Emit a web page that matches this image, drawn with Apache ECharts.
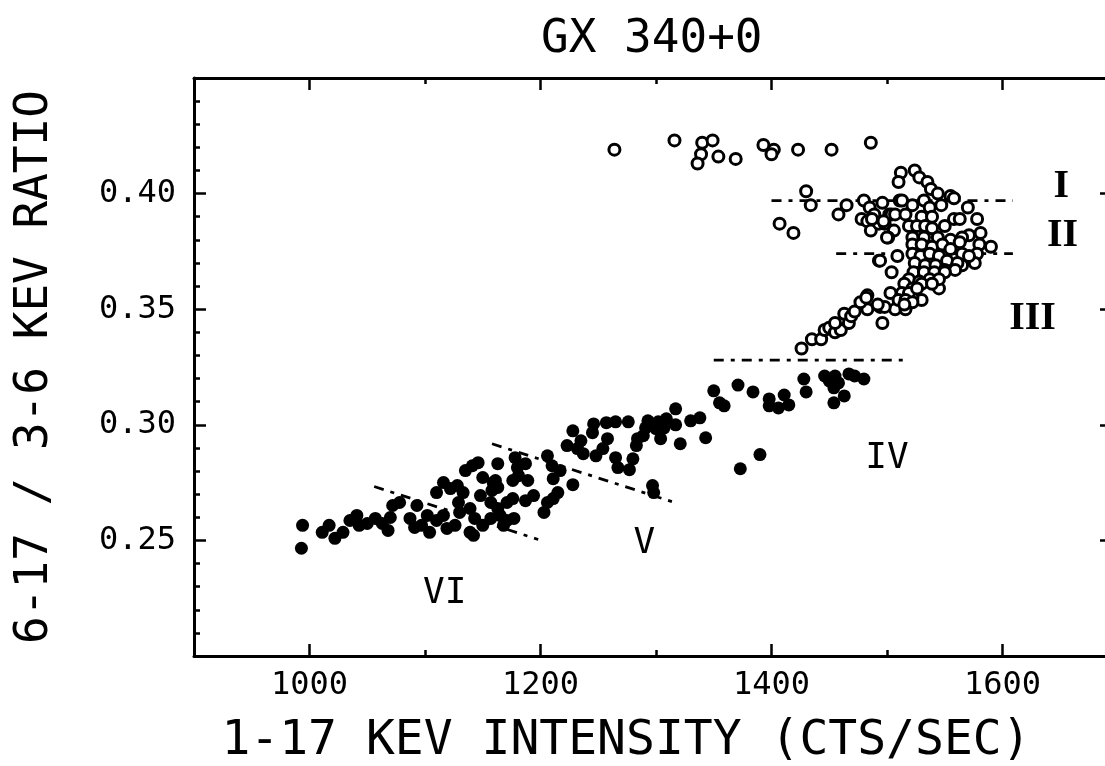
<!DOCTYPE html>
<html>
<head>
<meta charset="utf-8">
<script src="https://cdn.jsdelivr.net/npm/echarts@6/dist/echarts.min.js"></script>
<style>html,body{margin:0;padding:0;background:#fff;}#c{width:1105px;height:766px;}</style>
</head>
<body>
<div id="c"></div>
<script>
// ---- data ----
const chartTitle = 'GX 340+0';
const xTitle = '1-17 KEV INTENSITY (CTS/SEC)';
const yTitle = '6-17 / 3-6 KEV RATIO';
const xMajorTicks = [1000, 1200, 1400, 1600];
const xMinorTicks = [1100, 1300, 1500];
const yMajorTicks = [0.25, 0.30, 0.35, 0.40];
const yMinorTicks = [0.21,0.22,0.23,0.24,0.26,0.27,0.28,0.29,0.31,0.32,0.33,0.34,0.36,0.37,0.38,0.39,0.41,0.42,0.43,0.44];

// open circles (upper branch)
const openPoints = [
 [1264,0.419],[1316,0.423],[1340,0.422],[1349,0.423],[1339,0.417],[1336,0.413],[1354,0.416],[1369,0.415],
 [1393,0.421],[1402,0.419],[1400,0.417],[1423,0.419],[1452,0.419],[1486,0.422],
 [1430,0.401],[1434,0.395],[1407,0.387],[1419,0.383],[1465,0.395],[1458,0.391],[1480,0.397],[1485,0.394],
 [1489,0.391],[1478,0.389],[1483,0.388],[1486,0.384],[1493,0.371],[1496,0.396],[1511,0.397],[1502,0.391],
 [1504,0.391],[1506,0.384],[1501,0.381],[1493,0.387],[1498,0.387],
 [1512,0.409],[1510,0.405],[1524,0.410],[1528,0.407],[1535,0.405],[1538,0.402],[1544,0.400],[1555,0.399],
 [1558,0.398],[1570,0.394],[1578,0.389],[1581,0.383],[1590,0.377],[1580,0.378],[1578,0.374],[1576,0.370],
 [1565,0.369],[1545,0.359],[1530,0.354],[1522,0.355],[1513,0.351],[1507,0.350],[1503,0.357],[1496,0.344],
 [1483,0.356],[1483,0.350],[1494,0.351],[1498,0.351],[1504,0.366],[1494,0.371],[1509,0.373],
 [1513,0.397],[1522,0.395],[1532,0.397],[1537,0.394],[1547,0.395],[1507,0.391],[1516,0.391],[1530,0.390],
 [1539,0.390],[1558,0.389],[1563,0.389],[1571,0.382],[1565,0.381],[1550,0.386],[1487,0.389],[1497,0.388],
 [1500,0.381],[1519,0.386],[1526,0.386],[1533,0.386],[1539,0.385],[1522,0.381],[1532,0.381],[1544,0.381],
 [1555,0.380],[1563,0.379],[1522,0.378],[1530,0.378],[1539,0.377],[1548,0.378],[1555,0.376],[1565,0.374],
 [1571,0.373],[1522,0.374],[1529,0.373],[1537,0.374],[1545,0.373],[1552,0.371],[1561,0.370],[1524,0.370],
 [1533,0.369],[1542,0.369],[1550,0.367],[1559,0.367],[1523,0.366],[1532,0.366],[1541,0.366],[1550,0.366],
 [1519,0.363],[1528,0.362],[1537,0.363],[1545,0.363],[1515,0.361],[1522,0.359],[1530,0.361],[1539,0.361],
 [1513,0.357],[1519,0.357],[1526,0.359],[1510,0.354],[1516,0.354],[1522,0.353],[1516,0.350],
 [1426,0.333],[1435,0.337],[1443,0.337],[1446,0.341],[1450,0.342],[1455,0.340],[1460,0.341],[1455,0.344],
 [1463,0.348],[1467,0.344],[1469,0.347],[1472,0.349],[1477,0.353],[1482,0.355],[1492,0.352],[1515,0.352]
];

// filled dots (lower branch)
const filledPoints = [
 [994,0.2565],[993,0.2466],[1011,0.2535],[1017,0.2565],[1022,0.2509],[1029,0.2535],[1035,0.2586],[1041,0.2608],
 [1043,0.2565],[1050,0.2573],[1057,0.2595],[1063,0.2573],[1068,0.2543],[1070,0.2599],[1072,0.2651],[1078,0.2664],
 [1087,0.2595],[1093,0.2651],[1091,0.2556],[1097,0.2565],[1102,0.2608],[1104,0.2535],[1110,0.2586],[1116,0.2608],
 [1119,0.2552],[1126,0.2565],[1130,0.2621],[1139,0.2638],[1143,0.2595],[1139,0.2535],[1150,0.2565],[1157,0.2595],
 [1163,0.2638],[1168,0.2565],[1157,0.2664],[1148,0.2694],[1150,0.2772],[1159,0.2750],[1163,0.2832],[1141,0.2823],
 [1135,0.2802],[1146,0.2836],[1116,0.2750],[1110,0.2707],[1122,0.2724],[1128,0.2737],[1133,0.2707],[1129,0.2664],
 [1142,0.2522],[1171,0.2664],[1165,0.2608],
 [1178,0.2858],[1180,0.2815],[1187,0.2832],[1181,0.2780],[1189,0.2759],[1176,0.2759],[1161,0.2759],[1163,0.2729],
 [1158,0.2716],[1176,0.2681],[1187,0.2672],[1194,0.2694],[1206,0.2866],[1210,0.2823],[1217,0.2802],[1211,0.2767],
 [1215,0.2707],[1211,0.2681],[1228,0.2741],[1223,0.2910],[1228,0.2974],[1235,0.2931],[1232,0.2897],[1237,0.2875],
 [1246,0.3004],[1245,0.2966],[1257,0.3009],[1265,0.3013],[1276,0.3013],[1258,0.2940],[1254,0.2897],[1248,0.2866],
 [1265,0.2858],[1280,0.2853],[1267,0.2815],[1277,0.2806],[1297,0.2737],[1298,0.2707],[1293,0.3017],[1291,0.2987],
 [1302,0.3013],[1300,0.2983],[1309,0.3026],[1307,0.2987],[1289,0.2953],[1284,0.2940],[1283,0.2910],[1304,0.2940],
 [1317,0.3000],[1317,0.3069],[1321,0.2918],[1330,0.3017],[1338,0.3030],[1343,0.2944],[1350,0.3147],[1355,0.3095],
 [1359,0.3082],[1371,0.3172],[1384,0.3142],[1398,0.3112],[1398,0.3082],[1406,0.3073],[1411,0.3129],[1415,0.3086],
 [1428,0.3198],[1430,0.3142],[1446,0.3211],[1450,0.3190],[1454,0.3160],[1455,0.3211],[1458,0.3181],[1467,0.3220],
 [1472,0.3211],[1480,0.3198],[1463,0.3125],[1454,0.3095],[1390,0.2871],[1373,0.2810],
 [1171,0.2586],[1177,0.2595],[1203,0.2621],[1206,0.2664]
];

// dash-dot boundary lines
const boundaryLines = [
 [[1400,0.397],[1609,0.397]],
 [[1456,0.374],[1609,0.374]],
 [[1350,0.328],[1515,0.328]],
 [[1158,0.2918],[1316,0.2664]],
 [[1056,0.2733],[1198,0.2504]]
];

// region labels
const regionNames = ['I','II','III','IV','V','VI'];
const regionX = [1651,1652,1626,1500,1290,1117];
const regionY = [0.403,0.382,0.346,0.2855,0.2485,0.2268];
const regionSerif = [true,true,true,false,false,false];

// ---- chart ----
const MONO = "'DejaVu Sans Mono', 'Liberation Mono', monospace";
const SERIF = "'Liberation Serif', 'DejaVu Serif', serif";
const chart = echarts.init(document.getElementById('c'), null, {renderer:'canvas'});

function xAx(pos, ticks, len, showLine, showLabel){
  return {
    type:'value', position:pos, min:900, max:1700, gridIndex:0,
    axisLine:{show:showLine, onZero:false, lineStyle:{color:'#000', width:3}},
    axisTick:{show:true, inside:true, length:len, customValues:ticks, lineStyle:{color:'#000', width:2.5}},
    axisLabel:{show:showLabel, customValues:ticks, color:'#000', fontFamily:MONO, fontSize:32, margin:14,
      formatter:function(v){return String(v);}},
    splitLine:{show:false}
  };
}
function yAx(pos, ticks, len, showLine, showLabel){
  return {
    type:'value', position:pos, min:0.20, max:0.45, gridIndex:0,
    axisLine:{show:showLine, onZero:false, lineStyle:{color:'#000', width:3}},
    axisTick:{show:true, inside:true, length:len, customValues:ticks, lineStyle:{color:'#000', width:2.5}},
    axisLabel:{show:showLabel, customValues:ticks, color:'#000', fontFamily:MONO, fontSize:32, margin:18,
      formatter:function(v){return v.toFixed(2);}},
    splitLine:{show:false}
  };
}

const xAxes = [
  Object.assign(xAx('bottom', xMajorTicks, 12, true, true), {
    name:xTitle, nameLocation:'middle', nameGap:62,
    nameTextStyle:{color:'#000', fontFamily:MONO, fontSize:48, padding:[0,60,0,0]}
  }),
  xAx('bottom', xMinorTicks, 6, false, false),
  xAx('top', xMajorTicks, 12, true, false),
  xAx('top', xMinorTicks, 6, false, false)
];
const yAxes = [
  Object.assign(yAx('left', yMajorTicks, 12, true, true), {
    name:yTitle, nameLocation:'middle', nameGap:136, nameRotate:90,
    nameTextStyle:{color:'#000', fontFamily:MONO, fontSize:46}
  }),
  yAx('left', yMinorTicks, 6, false, false),
  yAx('right', yMajorTicks, 18, false, false),
  yAx('right', yMinorTicks, 6, false, false)
];

const series = [];
boundaryLines.forEach(function(seg){
  series.push({
    type:'line', data:seg, symbol:'none', silent:true, xAxisIndex:0, yAxisIndex:0,
    lineStyle:{color:'#000', width:2.8, type:[10,7,4,7]}, z:1
  });
});
series.push({
  type:'scatter', data:filledPoints, symbol:'circle', symbolSize:13, xAxisIndex:0, yAxisIndex:0,
  itemStyle:{color:'#000', opacity:1}, z:2
});
series.push({
  type:'scatter', data:openPoints, symbol:'circle', symbolSize:11, xAxisIndex:0, yAxisIndex:0,
  itemStyle:{color:'#fff', borderColor:'#000', borderWidth:3, opacity:1}, z:3
});
series.push({
  type:'scatter', xAxisIndex:0, yAxisIndex:0, symbolSize:0, silent:true, z:4,
  itemStyle:{color:'#000', opacity:1},
  data: regionNames.map(function(n,i){
    return {value:[regionX[i], regionY[i]], name:n,
      label:{show:true, position:'inside', formatter:n, color:'#000', opacity:1,
        fontFamily: regionSerif[i] ? SERIF : MONO,
        fontSize: regionSerif[i] ? 40 : 36,
        fontWeight: regionSerif[i] ? 'bold' : 'normal'}};
  })
});

chart.setOption({
  animation:false,
  backgroundColor:'#fff',
  title:{text:chartTitle, left:536, top:12,
    textStyle:{color:'#000', fontFamily:MONO, fontSize:46, fontWeight:'normal'}},
  grid:{left:194, top:78, width:924, height:578, containLabel:false, outerBoundsMode:'none'},
  xAxis:xAxes,
  yAxis:yAxes,
  series:series
});
</script>
</body>
</html>
